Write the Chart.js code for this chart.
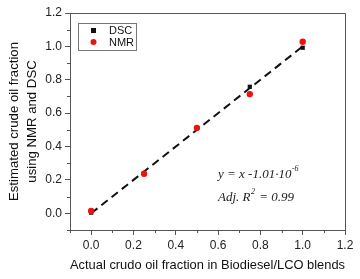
<!DOCTYPE html>
<html>
<head>
<meta charset="utf-8">
<script src="https://cdn.jsdelivr.net/npm/chart.js@4.4.1/dist/chart.umd.min.js"></script>
<style>
  html, body { margin: 0; padding: 0; background: #fff; }
  #wrap { width: 360px; height: 279px; }
</style>
</head>
<body>
<div id="wrap"><canvas id="fracChart" width="360" height="279"></canvas></div>
<script>
// --- data ---
const blendFraction = [0, 0.25, 0.5, 0.75, 1.0];
const dscValues = [0.004, 0.235, 0.51, 0.758, 0.992];
const nmrValues = [0.014, 0.237, 0.512, 0.714, 1.028];
const fitX = [0, 1.0];
const fitY = [0, 1.0];
const tickLabels = ["0.0", "0.2", "0.4", "0.6", "0.8", "1.0", "1.2"];

const FONT = "'Liberation Sans', Arial, sans-serif";
const AXIS_COL = "#555";

function toPoints(xs, ys) {
  return xs.map((x, i) => ({ x: x, y: ys[i] }));
}

// label only every 0.2, minor ticks at odd tenths
function tickText(v) {
  const k = Math.round(v * 10);
  if (k < 0 || k % 2 !== 0) return "";
  return tickLabels[k / 2] ?? "";
}
function isMinor(v) {
  const k = Math.round(v * 10);
  return k < 0 || k % 2 !== 0;
}

// frame, minor ticks, legend and fit text
const extras = {
  id: "extras",
  afterDraw(chart) {
    const ctx = chart.ctx;
    const a = chart.chartArea;
    const xs = chart.scales.x, ys = chart.scales.y;
    ctx.save();
    // top / right frame
    ctx.strokeStyle = AXIS_COL;
    ctx.lineWidth = 1;
    ctx.beginPath();
    ctx.moveTo(a.left, a.top + 0.5);
    ctx.lineTo(a.right + 0.5, a.top + 0.5);
    ctx.lineTo(a.right + 0.5, a.bottom);
    ctx.stroke();

    // minor ticks
    ctx.beginPath();
    xs.ticks.forEach(t => {
      if (!isMinor(t.value)) return;
      const px = Math.round(xs.getPixelForValue(t.value)) + 0.5;
      ctx.moveTo(px, a.bottom);
      ctx.lineTo(px, a.bottom + 3);
    });
    ys.ticks.forEach(t => {
      if (!isMinor(t.value)) return;
      const py = Math.round(ys.getPixelForValue(t.value)) + 0.5;
      ctx.moveTo(a.left, py);
      ctx.lineTo(a.left - 3, py);
    });
    ctx.stroke();

    // legend box
    const lx = 78, ly = 23, lw = 58, lh = 27;
    ctx.strokeStyle = "#777";
    ctx.strokeRect(lx + 0.5, ly + 0.5, lw, lh);
    ctx.font = "11px " + FONT;
    ctx.textBaseline = "middle";
    ctx.textAlign = "left";
    ctx.fillStyle = "#111";
    ctx.fillRect(91, 28, 5, 5);
    ctx.fillText("DSC", 109, 31);
    ctx.fillStyle = "#f01010";
    ctx.beginPath();
    ctx.arc(93.5, 42, 3, 0, Math.PI * 2);
    ctx.fill();
    ctx.fillStyle = "#111";
    ctx.fillText("NMR", 109, 43);

    // fit equation
    ctx.fillStyle = "#222";
    ctx.textBaseline = "alphabetic";
    const big = "italic 13px 'Liberation Serif', 'Times New Roman', serif";
    const small = "italic 8px 'Liberation Serif', 'Times New Roman', serif";
    let x = 218;
    ctx.font = big;
    let s = "y = x -1.01\u00b710";
    ctx.fillText(s, x, 178);
    x += ctx.measureText(s).width + 0.5;
    ctx.font = small;
    ctx.fillText("-6", x, 171);

    x = 218;
    ctx.font = big;
    s = "Adj. R";
    ctx.fillText(s, x, 201);
    x += ctx.measureText(s).width + 0.5;
    ctx.font = small;
    ctx.fillText("2", x, 194);
    x += ctx.measureText("2").width + 1;
    ctx.font = big;
    ctx.fillText(" = 0.99", x, 201);
    ctx.restore();
  }
};

const ctx = document.getElementById("fracChart").getContext("2d");
new Chart(ctx, {
  type: "scatter",
  data: {
    datasets: [
      {
        label: "fit",
        type: "line",
        data: toPoints(fitX, fitY),
        borderColor: "#111",
        borderWidth: 2,
        borderDash: [8, 5],
        pointRadius: 0,
        fill: false,
        order: 3
      },
      {
        label: "DSC",
        data: toPoints(blendFraction, dscValues),
        pointStyle: "rect",
        pointRadius: 3,
        backgroundColor: "#111",
        borderColor: "#111",
        borderWidth: 0,
        order: 2
      },
      {
        label: "NMR",
        data: toPoints(blendFraction, nmrValues),
        pointStyle: "circle",
        pointRadius: 3.2,
        backgroundColor: "#f01010",
        borderColor: "#f01010",
        borderWidth: 0,
        order: 1
      }
    ]
  },
  options: {
    responsive: false,
    animation: false,
    devicePixelRatio: 1,
    layout: { padding: { top: 13, right: 15, left: 6, bottom: 2 } },
    plugins: { legend: { display: false }, tooltip: { enabled: false } },
    scales: {
      x: {
        type: "linear",
        min: -0.1,
        max: 1.2,
        border: { color: AXIS_COL, width: 1 },
        grid: {
          drawOnChartArea: false,
          tickLength: 5,
          tickColor: c => isMinor(c.tick.value) ? "rgba(0,0,0,0)" : AXIS_COL
        },
        ticks: {
          stepSize: 0.1,
          autoSkip: false,
          maxRotation: 0,
          color: "#222",
          font: { family: FONT, size: 12 },
          padding: 3,
          callback: v => tickText(v)
        },
        title: {
          display: true,
          text: "Actual crudo oil fraction in Biodiesel/LCO blends",
          color: "#111",
          font: { family: FONT, size: 13.5 },
          padding: { top: 2, bottom: 4 }
        },
        afterFit: s => { s.height = 47; }
      },
      y: {
        type: "linear",
        min: -0.1,
        max: 1.2,
        border: { color: AXIS_COL, width: 1 },
        grid: {
          drawOnChartArea: false,
          tickLength: 5,
          tickColor: c => isMinor(c.tick.value) ? "rgba(0,0,0,0)" : AXIS_COL
        },
        ticks: {
          stepSize: 0.1,
          autoSkip: false,
          color: "#222",
          font: { family: FONT, size: 12 },
          padding: 3,
          callback: v => tickText(v)
        },
        title: {
          display: true,
          text: ["Estimated crude oil fraction", "using NMR and DSC"],
          color: "#111",
          font: { family: FONT, size: 13.2, lineHeight: 1.33 },
          padding: { top: 0, bottom: 4 }
        },
        afterFit: s => { s.width = 64; }
      }
    }
  },
  plugins: [extras]
});
</script>
</body>
</html>
